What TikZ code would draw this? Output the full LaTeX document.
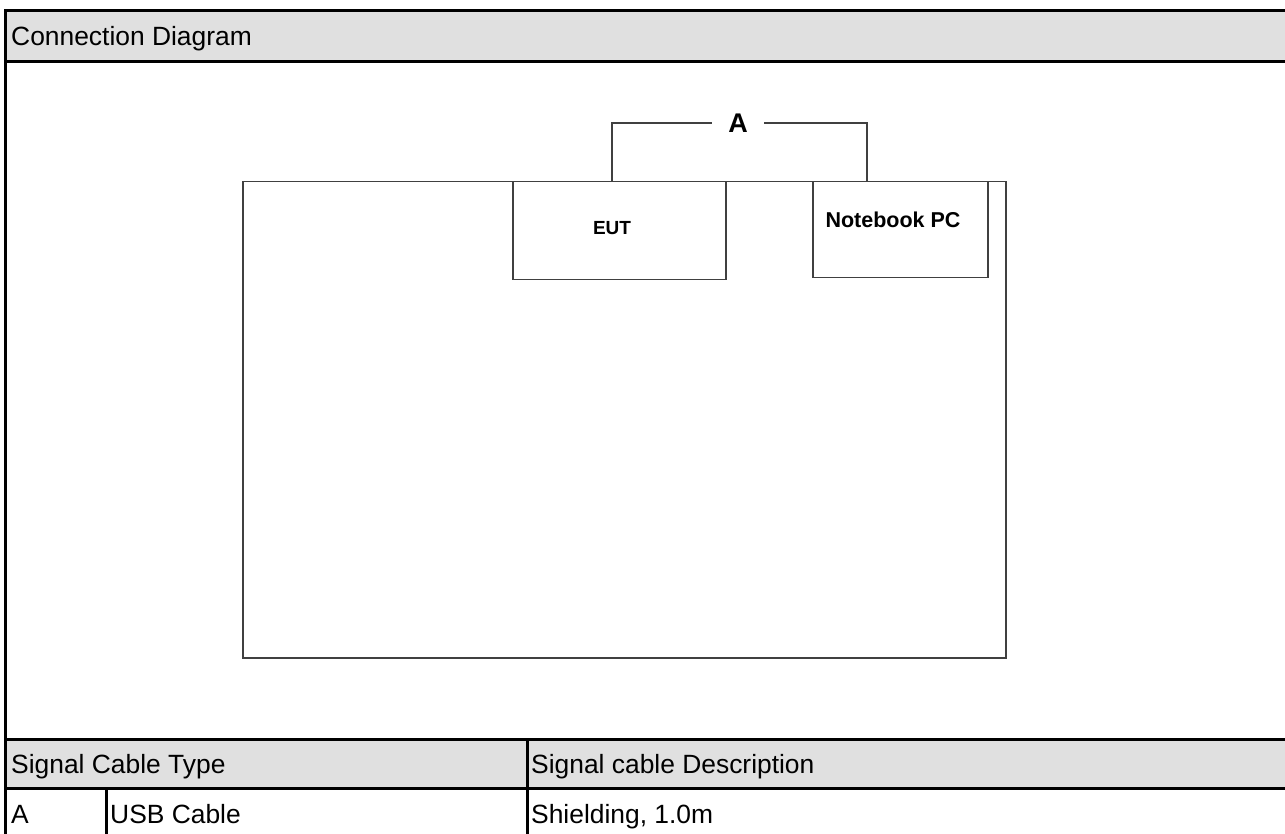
\documentclass[tikz,border=0pt]{standalone}
\usepackage{fontspec}
\setmainfont{Liberation Sans}
\usetikzlibrary{calc}
\definecolor{bandgray}{HTML}{E0E0E0}
\definecolor{linegray}{HTML}{404040}
\tikzset{
  frame/.style={line width=3pt, black},
  diag/.style={line width=1.5pt, linegray},
  celltext/.style={inner sep=0pt, anchor=base west, font=\fontsize{26.4}{30}\selectfont},
  boxlabel/.style={inner sep=0pt, font=\bfseries\fontsize{19}{22}\selectfont},
}
\begin{document}
\begin{tikzpicture}[x=1pt,y=-1pt]
\useasboundingbox (0,0) rectangle (1285,834);
% gray bands
\fill[bandgray] (5,11) rectangle (1285,62);
\fill[bandgray] (5,739) rectangle (1285,788);
% frame lines
\draw[frame] (1285,11) -- (5,11) -- (5,834);
\draw[frame] (5,62) -- (1285,62);
\draw[frame] (5,739) -- (1285,739);
\draw[frame] (5,788) -- (1285,788);
\draw[frame] (527,739) -- (527,834);
\draw[frame] (106,788) -- (106,834);
% texts
\node[celltext] (hdr) at (11,46) {Connection Diagram};
\node[celltext] (th1) at (11,773) {Signal Cable Type};
\node[celltext] (th2) at (531,773) {Signal cable Description};
\node[celltext] (r1) at (11,823) {A};
\node[celltext] (r2) at (110,823) {USB Cable};
\node[celltext] (r3) at (531,823) {Shielding, 1.0m};
% diagram
\node[diag, draw, minimum width=763, minimum height=476, inner sep=0, anchor=north west] (room) at (242,181) {};
\node[diag, draw, minimum width=213, minimum height=98, inner sep=0, anchor=north west] (eut) at (512,181) {};
\node[boxlabel] (eutlbl) at (612,228) {EUT};
\node[diag, draw, minimum width=175, minimum height=96, inner sep=0, anchor=north west] (pc) at (812,181) {};
\node[boxlabel, font=\bfseries\fontsize{21.5}{24}\selectfont] (pclbl) at (893,220) {Notebook PC};
\node[inner sep=0, font=\bfseries\fontsize{27}{30}\selectfont, minimum width=52] (cabA) at (738,123) {A};
\coordinate (e1) at (612,181);
\coordinate (p1) at (867,181);
\draw[diag] (e1) |- (cabA.west);
\draw[diag] (cabA.east) -| (p1);
\end{tikzpicture}
\end{document}
